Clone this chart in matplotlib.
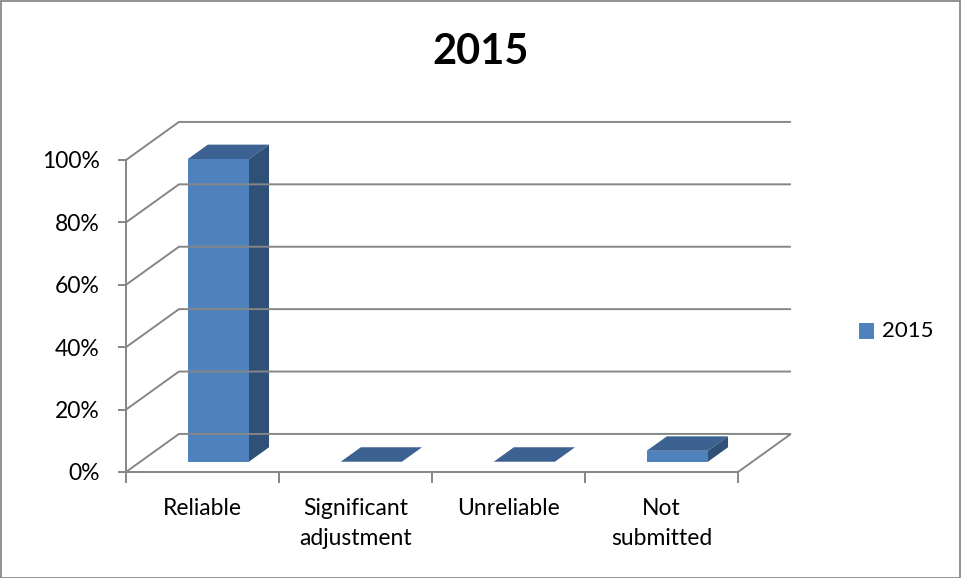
import matplotlib
matplotlib.use("Agg")
import matplotlib.pyplot as plt
from matplotlib.patches import Polygon, Rectangle

plt.rcParams['font.family'] = ['Lato', 'DejaVu Sans']

categories = ["Reliable", "Significant\nadjustment", "Unreliable", "Not\nsubmitted"]
values_2015 = [97, 0, 0, 3.5]
y_ticks = [0, 20, 40, 60, 80, 100]
series_name = "2015"

FRONT = "#4F81BD"
TOP = "#3B6291"
SIDE = "#2F5178"
GRID = "#868686"

# oblique depth of the plot box, in data units (categories, percent)
DEPTH_X = 0.346
DEPTH_Y = 12.2
# where each bar sits inside the box depth and inside its category slot
BAR_Z = (0.27, 0.65)
BAR_X = (0.31, 0.71)


def proj(x, y, z):
    return (x + DEPTH_X * z, y + DEPTH_Y * z)


fig = plt.figure(figsize=(9.62, 5.78), dpi=100)
W, H = 962, 578
ax = fig.add_axes([126 / W, (H - 472) / H, 612 / W, 312 / H])
ax.set_xlim(0, len(categories))
ax.set_ylim(0, 100)
ax.patch.set_visible(False)

for s in ("top", "right"):
    ax.spines[s].set_visible(False)
for s in ("left", "bottom"):
    ax.spines[s].set_color(GRID)
    ax.spines[s].set_linewidth(1.4)

ax.set_yticks(y_ticks)
ax.set_yticklabels([f"{t}%" for t in y_ticks])
ax.tick_params(axis="y", length=6, width=1.4, color=GRID, pad=13, labelsize=16.5)
ax.set_xticks(range(len(categories) + 1))
ax.set_xticklabels([])
ax.tick_params(axis="x", which="major", length=8, width=1.4, color=GRID)
ax.set_xticks([i + 0.5 for i in range(len(categories))], minor=True)
ax.set_xticklabels(categories, minor=True, linespacing=1.5)
ax.tick_params(axis="x", which="minor", length=0, pad=19, labelsize=16.5)

line_kw = dict(color=GRID, lw=1.4, clip_on=False, solid_capstyle="butt")
n = len(categories)

# back wall gridlines and left wall diagonals
for t in y_ticks:
    a = proj(0, t, 0)
    b = proj(0, t, 1)
    c = proj(n, t, 1)
    ax.plot([a[0], b[0], c[0]], [a[1], b[1], c[1]], **line_kw)

# floor right edge
a = proj(n, 0, 0)
b = proj(n, 0, 1)
ax.plot([a[0], b[0]], [a[1], b[1]], **line_kw)

# bars
for i, v in enumerate(values_2015):
    x0, x1 = i + BAR_X[0], i + BAR_X[1]
    z0, z1 = BAR_Z
    top = [proj(x0, v, z0), proj(x1, v, z0), proj(x1, v, z1), proj(x0, v, z1)]
    ax.add_patch(Polygon(top, closed=True, facecolor=TOP, edgecolor="none", clip_on=False))
    if v > 0:
        side = [proj(x1, 0, z0), proj(x1, v, z0), proj(x1, v, z1), proj(x1, 0, z1)]
        ax.add_patch(Polygon(side, closed=True, facecolor=SIDE, edgecolor="none", clip_on=False))
        front = [proj(x0, 0, z0), proj(x1, 0, z0), proj(x1, v, z0), proj(x0, v, z0)]
        ax.add_patch(Polygon(front, closed=True, facecolor=FRONT, edgecolor="none", clip_on=False))

fig.text(481 / W, 1 - 52 / H, "2015", ha="center", va="center",
         fontsize=30, fontweight="bold", color="black")

# legend
fig.patches.append(Rectangle((859 / W, 1 - 339 / H), 15 / W, 16 / H, transform=fig.transFigure,
                             facecolor=FRONT, edgecolor="none"))
fig.text(882 / W, 1 - 331 / H, series_name, ha="left", va="center", fontsize=16)

# chart border
fig.patches.append(Rectangle((0.5 / W, 0.5 / H), 960 / W, 576.5 / H, transform=fig.transFigure,
                             facecolor="none", edgecolor="#7F7F7F", lw=1.2))

fig.savefig("out.png", dpi=100, facecolor="white")
